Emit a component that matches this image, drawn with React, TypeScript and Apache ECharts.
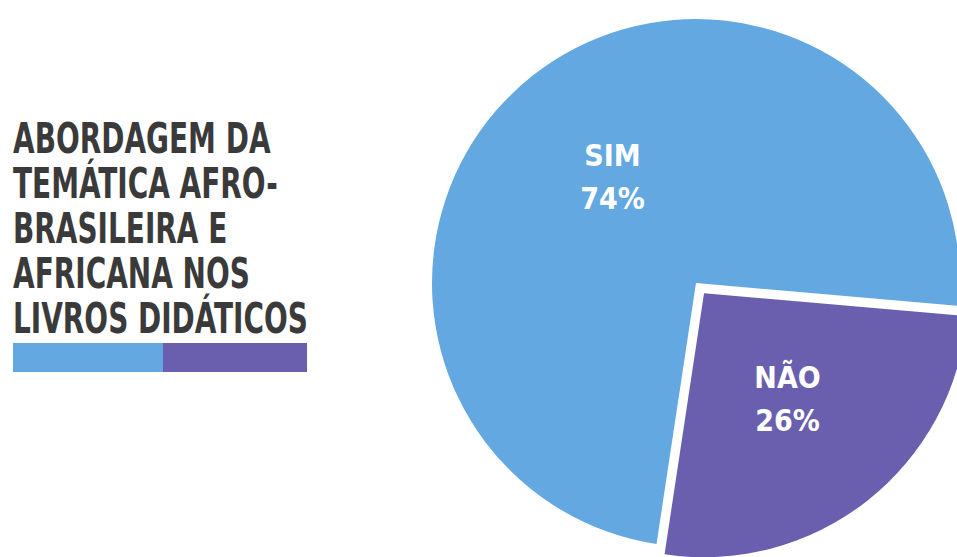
import React, { useEffect, useRef } from "react";
import * as echarts from "echarts";

const categories = ["NÃO", "SIM"];
const values = [26, 74];
const colors = ["#6A5FAE", "#64A8E2"];
const titleLines = [
  "ABORDAGEM DA",
  "TEMÁTICA AFRO-",
  "BRASILEIRA E",
  "AFRICANA NOS",
  "LIVROS DIDÁTICOS",
];

const FONT = '"DejaVu Sans Condensed", "Liberation Sans Narrow", "Roboto", sans-serif';

export default function App() {
  const ref = useRef<HTMLDivElement>(null);
  useEffect(() => {
    if (!ref.current) return;
    const chart = echarts.init(ref.current, undefined, { renderer: "svg" });
    chart.setOption({
      animation: false,
      backgroundColor: "#ffffff",
      graphic: [
        {
          type: "text",
          left: 13,
          top: 116,
          scaleX: 0.74,
          style: {
            text: titleLines.join("\n"),
            font: `bold 42px ${FONT}`,
            lineHeight: 45,
            fill: "#3a3a3a",
          },
        },
        {
          type: "rect",
          shape: { x: 13, y: 343, width: 150, height: 29 },
          style: { fill: colors[1] },
        },
        {
          type: "rect",
          shape: { x: 163, y: 343, width: 144, height: 29 },
          style: { fill: colors[0] },
        },
      ],
      series: [
        {
          type: "pie",
          center: [696, 283],
          radius: [0, 264],
          startAngle: -5,
          clockwise: true,
          selectedMode: "single",
          selectedOffset: 13,
          emphasis: { disabled: true },
          label: {
            show: true,
            position: "inside",
            formatter: "{b}\n{c}%",
            color: "#ffffff",
            fontFamily: FONT,
            fontWeight: "bold",
            fontSize: 30,
            lineHeight: 43,
          },
          labelLine: { show: false },
          data: categories.map((name, i) => ({
            name,
            value: values[i],
            selected: name === "NÃO",
            itemStyle: { color: colors[i] },
          })),
        },
      ],
    });
    return () => chart.dispose();
  }, []);
  return (
    <div
      ref={ref}
      style={{ position: "fixed", left: 0, top: 0, width: 957, height: 557 }}
    />
  );
}
